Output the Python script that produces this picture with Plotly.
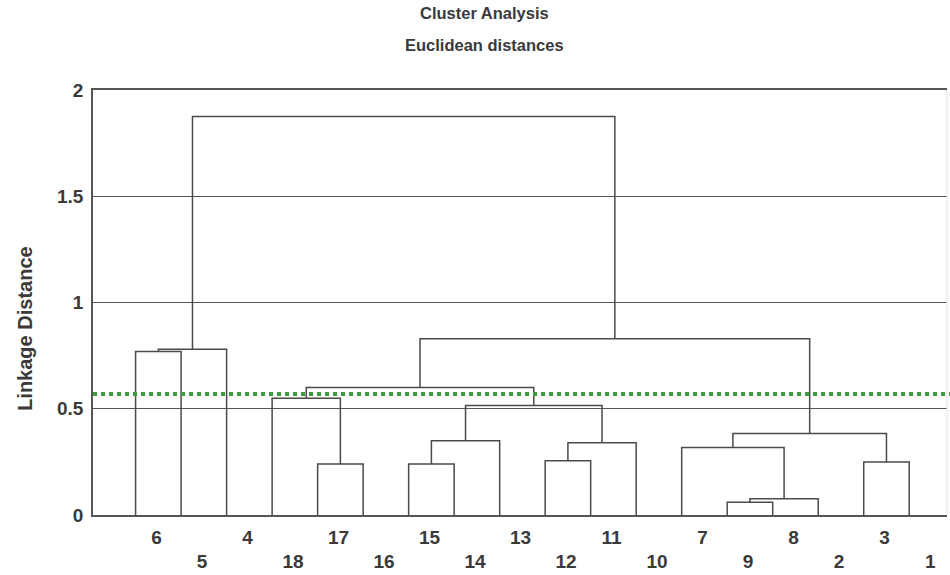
import plotly.graph_objects as go

# ---- data ----
leaves = ["6", "5", "4", "18", "17", "16", "15", "14", "13", "12", "11", "10",
          "7", "9", "8", "2", "3", "1"]
merge_a = ["6", "C1", "17", "18", "15", "C5", "12", "C7", "C6", "C4",
           "9", "C11", "7", "3", "C13", "C10", "C2"]
merge_b = ["5", "4", "16", "C3", "14", "13", "11", "10", "C8", "C9",
           "8", "2", "C12", "1", "C14", "C15", "C16"]
merge_h = [0.77, 0.78, 0.24, 0.55, 0.24, 0.35, 0.255, 0.34, 0.515, 0.60,
           0.06, 0.076, 0.318, 0.25, 0.383, 0.83, 1.875]
cut_level = 0.57
y_ticks = [0, 0.5, 1, 1.5, 2]
y_tick_text = ["0", "0.5", "1", "1.5", "2"]

# ---- dendrogram geometry from linkage ----
pos = {name: float(i) for i, name in enumerate(leaves)}
hgt = {name: 0.0 for name in leaves}
xs, ys = [], []
for k, (a, b, h) in enumerate(zip(merge_a, merge_b, merge_h), start=1):
    xa, xb = pos[a], pos[b]
    xs += [xa, xa, xb, xb, None]
    ys += [hgt[a], h, h, hgt[b], None]
    name = "C%d" % k
    pos[name] = (xa + xb) / 2
    hgt[name] = h

line_col = "#4a4a4a"
txt_col = "#3a3a3a"
font_fam = "Liberation Sans, Arial, sans-serif"

fig = go.Figure()
fig.add_trace(go.Scatter(x=xs, y=ys, mode="lines",
                         line=dict(color=line_col, width=1.5),
                         hoverinfo="skip", showlegend=False))

# tick labels alternate between two rows, centred between leaf lines
tickvals = [i + 0.46 for i in range(len(leaves))]
ticktext = [lab if i % 2 == 0 else "<br>" + lab for i, lab in enumerate(leaves)]

fig.update_layout(
    width=950, height=575,
    margin=dict(l=93, r=3, t=90, b=57),
    plot_bgcolor="white", paper_bgcolor="white",
    font=dict(family=font_fam, color=txt_col),
    showlegend=False,
    xaxis=dict(range=[-0.936, 17.83], showgrid=False, zeroline=False,
               tickvals=tickvals, ticktext=ticktext, ticks="",
               tickfont=dict(size=19, family=font_fam, color=txt_col, weight="bold"),
               ticklabelstandoff=4,
               showline=True, linecolor="#555555", linewidth=1.5, mirror=True),
    yaxis=dict(range=[0, 2], tickvals=y_ticks, ticktext=y_tick_text,
               showgrid=True, gridcolor="#555555", gridwidth=1.3, zeroline=False,
               ticks="inside", ticklen=4, tickcolor="#555555",
               tickfont=dict(size=19, family=font_fam, color=txt_col, weight="bold"),
               ticklabelstandoff=4,
               showline=True, linecolor="#555555", linewidth=1.5, mirror=False),
)

# faint right border
fig.add_shape(type="line", xref="paper", yref="paper", x0=1, x1=1, y0=0, y1=1,
              line=dict(color="#e4e4e4", width=1))
# cut level
fig.add_shape(type="line", xref="paper", yref="y", x0=0, x1=1.01,
              y0=cut_level, y1=cut_level,
              line=dict(color="#3d9a3d", width=4, dash="dot"))

fig.add_annotation(text="<b>Cluster Analysis</b>", xref="paper", yref="paper",
                   x=0.459, y=1.206, showarrow=False,
                   font=dict(size=16.5, color=txt_col))
fig.add_annotation(text="<b>Euclidean distances</b>", xref="paper", yref="paper",
                   x=0.459, y=1.131, showarrow=False,
                   font=dict(size=16.5, color=txt_col))
fig.add_annotation(text="<b>Linkage Distance</b>", xref="paper", yref="paper",
                   x=-0.095, y=0.44, showarrow=False, textangle=-90,
                   font=dict(size=20, color=txt_col))

fig.write_html("out.html",
               config={"displayModeBar": False},
               post_script="document.body.style.margin='0';"
                           "document.body.style.overflow='hidden';")
